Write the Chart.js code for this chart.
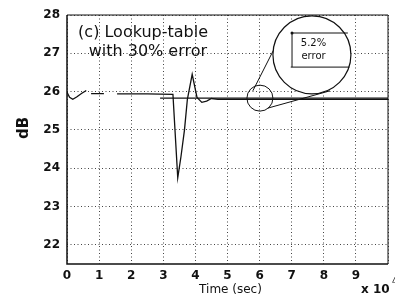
<!DOCTYPE html>
<html>
<head>
<meta charset="utf-8">
<script src="https://cdn.jsdelivr.net/npm/chart.js@4.4.0/dist/chart.umd.min.js"></script>
<style>
  html, body { margin: 0; padding: 0; background: #fff; }
  #wrap { width: 395px; height: 299px; }
</style>
</head>
<body>
<div id="wrap"><canvas id="dbChart" width="395" height="299"></canvas></div>
<script>
// time axis (x 10^4 samples) and gain in dB
const timeSig = [0, 0.08, 0.18, 0.3, 0.45, 0.6, 0.68, 0.75, 1.15, 1.35, 1.56, 2.5, 3.3, 3.45, 3.55, 3.66, 3.75, 3.9, 4.05, 4.2, 4.35, 4.5, 4.7, 5, 10];
const dbSig   = [25.98, 25.85, 25.8, 25.86, 25.95, 26.03, null, 25.95, 25.95, null, 25.94, 25.94, 25.93, 23.75, 24.3, 25.0, 25.8, 26.45, 25.85, 25.72, 25.75, 25.82, 25.8, 25.8, 25.8];

const timeRef = [2.9, 10];
const dbRef   = [25.83, 25.83];

const xTicks = [0, 1, 2, 3, 4, 5, 6, 7, 8, 9, 10];
const yTicks = [22, 23, 24, 25, 26, 27, 28];

const toPoints = (xs, ys) => xs.map((x, i) => ({ x: x, y: ys[i] }));

const tickFont = { family: "DejaVu Sans", size: 12, weight: "bold" };

// frame, zoom circles, labels
const overlay = {
  id: "overlay",
  afterDatasetsDraw(chart) {
    const { ctx, chartArea: a, scales: { x, y } } = chart;
    const px = v => x.getPixelForValue(v);
    const py = v => y.getPixelForValue(v);
    ctx.save();
    ctx.strokeStyle = "#111";
    ctx.setLineDash([]);

    // box
    ctx.lineWidth = 1.5;
    ctx.beginPath();
    ctx.moveTo(a.left, a.top); ctx.lineTo(a.left, a.bottom); ctx.lineTo(a.right, a.bottom);
    ctx.stroke();
    ctx.lineWidth = 1;
    ctx.beginPath();
    ctx.moveTo(a.left, a.top); ctx.lineTo(a.right, a.top); ctx.lineTo(a.right, a.bottom);
    ctx.stroke();

    // small circle around settling point
    ctx.lineWidth = 1;
    ctx.beginPath();
    ctx.arc(px(6.01), py(25.83), 13, 0, Math.PI * 2);
    ctx.stroke();

    // connecting lines
    ctx.beginPath();
    ctx.moveTo(px(5.79), py(26.02)); ctx.lineTo(px(6.45), py(27.11));
    ctx.moveTo(px(6.26), py(25.57)); ctx.lineTo(px(8.19), py(26.02));
    ctx.stroke();

    // big zoom circle
    ctx.fillStyle = "#fff";
    ctx.lineWidth = 1.2;
    ctx.beginPath();
    ctx.arc(px(7.63), py(26.96), 39, 0, Math.PI * 2);
    ctx.fill();
    ctx.stroke();

    // error bracket
    ctx.lineWidth = 1;
    ctx.beginPath();
    ctx.moveTo(px(8.75), py(27.53)); ctx.lineTo(px(7.01), py(27.53));
    ctx.lineTo(px(7.01), py(26.64));
    ctx.moveTo(px(6.97), py(26.64)); ctx.lineTo(px(8.8), py(26.64));
    ctx.stroke();
    ctx.fillStyle = "#111";
    ctx.beginPath();
    ctx.arc(px(7.01), py(27.53), 1.5, 0, Math.PI * 2);
    ctx.fill();

    ctx.font = "10px 'DejaVu Sans'";
    ctx.textAlign = "center";
    ctx.textBaseline = "middle";
    ctx.fillText("5.2%", px(7.68), py(27.27));
    ctx.fillText("error", px(7.68), py(26.93));

    // panel caption
    ctx.font = "16px 'DejaVu Sans'";
    ctx.fillText("(c) Lookup-table", px(2.37), py(27.53));
    ctx.fillText("with 30% error", px(2.52), py(27.03));

    // axis titles
    ctx.font = "12px 'DejaVu Sans'";
    ctx.fillText("Time (sec)", (a.left + a.right) / 2 + 3, 290);
    ctx.font = "bold 12px 'DejaVu Sans'";
    ctx.textAlign = "left";
    ctx.fillText("x 10", 361, 290);
    ctx.font = "8px 'DejaVu Sans'";
    ctx.fillText("4", 392, 282);

    ctx.font = "bold 15px 'DejaVu Sans'";
    ctx.textAlign = "center";
    ctx.translate(24, 128);
    ctx.rotate(-Math.PI / 2);
    ctx.fillText("dB", 0, 0);
    ctx.restore();
  }
};

const ctx = document.getElementById("dbChart").getContext("2d");
const dbChart = new Chart(ctx, {
  type: "line",
  data: {
    datasets: [
      {
        label: "gain",
        data: toPoints(timeSig, dbSig),
        borderColor: "#111",
        borderWidth: 1.3,
        pointRadius: 0,
        tension: 0,
        spanGaps: false
      },
      {
        label: "settled",
        data: toPoints(timeRef, dbRef),
        borderColor: "#111",
        borderWidth: 1.4,
        pointRadius: 0,
        tension: 0
      }
    ]
  },
  options: {
    responsive: false,
    animation: false,
    layout: { padding: { top: 15, right: 7, left: 0, bottom: 0 } },
    plugins: { legend: { display: false }, tooltip: { enabled: false } },
    scales: {
      x: {
        type: "linear",
        min: 0,
        max: 10,
        afterBuildTicks: s => { s.ticks = xTicks.map(v => ({ value: v })); },
        afterFit: s => { s.height = 35; },
        ticks: {
          color: "#111",
          font: tickFont,
          padding: 5,
          maxRotation: 0,
          callback: v => (v === 10 ? "" : v)
        },
        grid: { color: "#444", lineWidth: 1, drawTicks: false },
        border: { display: false, dash: [1, 2.5] }
      },
      y: {
        min: 21.5,
        max: 28,
        afterBuildTicks: s => { s.ticks = yTicks.map(v => ({ value: v })); },
        afterFit: s => { s.width = 67; },
        ticks: { color: "#111", font: tickFont, padding: 7 },
        grid: { color: "#444", lineWidth: 1, drawTicks: false },
        border: { display: false, dash: [1, 2.5] }
      }
    }
  },
  plugins: [overlay]
});
</script>
</body>
</html>
